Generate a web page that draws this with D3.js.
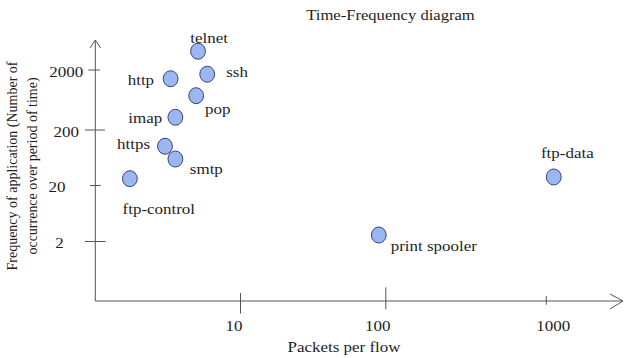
<!DOCTYPE html>
<html>
<head>
<meta charset="utf-8">
<script src="https://cdn.jsdelivr.net/npm/d3@7/dist/d3.min.js"></script>
<style>
  html, body { margin: 0; padding: 0; background: #ffffff; }
  svg { display: block; }
  text { font-family: "Liberation Serif", "Times New Roman", serif; fill: #1e1e1e; }
</style>
</head>
<body>
<svg id="chart" width="624" height="358"></svg>
<script>
// ---- data ----
const categories = ["telnet", "ssh", "http", "pop", "imap", "https", "smtp", "ftp-control", "print spooler", "ftp-data"];
const packetsPerFlow = [5.1, 5.9, 3.3, 4.95, 3.56, 3.02, 3.56, 1.73, 89.5, 1113];
const frequency = [4100, 1700, 1430, 746, 326, 102, 60, 26.5, 2.61, 28.5];
const xTickValues = [10, 100, 1000];
const xTickLabels = ["10", "100", "1000"];
const yTickValues = [2, 20, 200, 2000];
const yTickLabels = ["2", "20", "200", "2000"];
const title = "Time-Frequency diagram";
const xTitle = "Packets per flow";
const yTitleLines = ["Frequency of application (Number of", "occurrence over period of time)"];

// ---- layout (positions / styles only) ----
const SX = 1.17; // horizontal stretch of the reference's glyphs
const FS = 14.5;
const labelLayout = {
  "telnet":        { anchor: "start", dx: -7.8,  dy: -8 },
  "ssh":           { anchor: "start", dx: 19,    dy: 3 },
  "http":          { anchor: "end",   dx: -16.5, dy: 6 },
  "pop":           { anchor: "start", dx: 8.8,   dy: 18.3 },
  "imap":          { anchor: "end",   dx: -13.2, dy: 6 },
  "https":         { anchor: "end",   dx: -15,   dy: 3.1 },
  "smtp":          { anchor: "start", dx: 14.5,  dy: 15 },
  "ftp-control":   { anchor: "start", dx: -7.3,  dy: 35.3 },
  "print spooler": { anchor: "start", dx: 11.9,  dy: 15.5 },
  "ftp-data":      { anchor: "start", dx: -12.8, dy: -18.7 }
};
const xTickHalf = [[8, 12.5], [13.7, 8.3], [5, 3.7]];     // [up, down] per x tick
const xTickLabelDx = [-6.5, -8, 7];
const yTickExt = [[10.3, 10.4], [5.3, 5.4], [10.3, 9.7], [7, 4.7]]; // [left, right] per y tick
const yTickLabelX = [59.4, 57, 66.3, 66.3];

const svg = d3.select("#chart");
const axisColor = "#555";

const x = d3.scaleLog()
  .domain([1, 10, 100, 1000, 3000])
  .range([95.3, 240.5, 385.8, 546.3, 623]);
const y = d3.scaleLog()
  .domain([0.17, 2, 20, 200, 2000, 6300])
  .range([301, 241.5, 185.5, 130, 70, 40]);

const x0 = x(1), y0 = y(0.17), xEnd = x(3000), yTop = y(6300);

function stext(g, px, py, str, size, anchor, sx, extra) {
  return g.append("text")
    .attr("transform", `translate(${px},${py}) scale(${sx},1)` + (extra || ""))
    .attr("text-anchor", anchor || "start")
    .style("font-size", size + "px")
    .text(str);
}

// axes
const axes = svg.append("g").attr("stroke", axisColor).attr("fill", "none").attr("stroke-width", 1);
axes.append("line").attr("x1", x0).attr("y1", y0).attr("x2", x0).attr("y2", yTop);
axes.append("line").attr("x1", x0).attr("y1", y0).attr("x2", xEnd).attr("y2", y0);
axes.append("polyline").attr("points", `${x0 - 5.3},${yTop + 8} ${x0},${yTop} ${x0 + 5.3},${yTop + 8}`);
axes.append("polyline").attr("points", `${xEnd - 13},${y0 - 7} ${xEnd},${y0} ${xEnd - 13},${y0 + 8}`);

// x ticks
xTickValues.forEach((v, i) => {
  axes.append("line")
    .attr("x1", x(v)).attr("x2", x(v))
    .attr("y1", y0 - xTickHalf[i][0]).attr("y2", y0 + xTickHalf[i][1]);
  stext(svg, x(v) + xTickLabelDx[i], 331, xTickLabels[i], FS, "middle", SX);
});
// y ticks
yTickValues.forEach((v, i) => {
  axes.append("line")
    .attr("x1", x0 - yTickExt[i][0]).attr("x2", x0 + yTickExt[i][1])
    .attr("y1", y(v)).attr("y2", y(v));
  stext(svg, yTickLabelX[i], y(v) + 6.5, yTickLabels[i], FS, "middle", SX);
});

// titles
stext(svg, 390.5, 20, title, 14.2, "middle", SX);
stext(svg, 344, 352, xTitle, FS, "middle", SX);
yTitleLines.forEach((line, i) => {
  stext(svg, 16.5 + i * 20, 166, line, 14, "middle", 1.05, " rotate(-90)");
});

// points
const pts = categories.map((c, i) => ({ name: c, px: packetsPerFlow[i], fr: frequency[i] }));
svg.append("g").selectAll("ellipse").data(pts).join("ellipse")
  .attr("cx", d => x(d.px))
  .attr("cy", d => y(d.fr))
  .attr("rx", 7.4)
  .attr("ry", 8)
  .attr("fill", "#9bb6f0")
  .attr("stroke", "#34457a")
  .attr("stroke-width", 1);

// labels
const lg = svg.append("g");
pts.forEach(d => {
  const L = labelLayout[d.name];
  stext(lg, x(d.px) + L.dx, y(d.fr) + L.dy, d.name, FS, L.anchor, SX);
});
</script>
</body>
</html>
